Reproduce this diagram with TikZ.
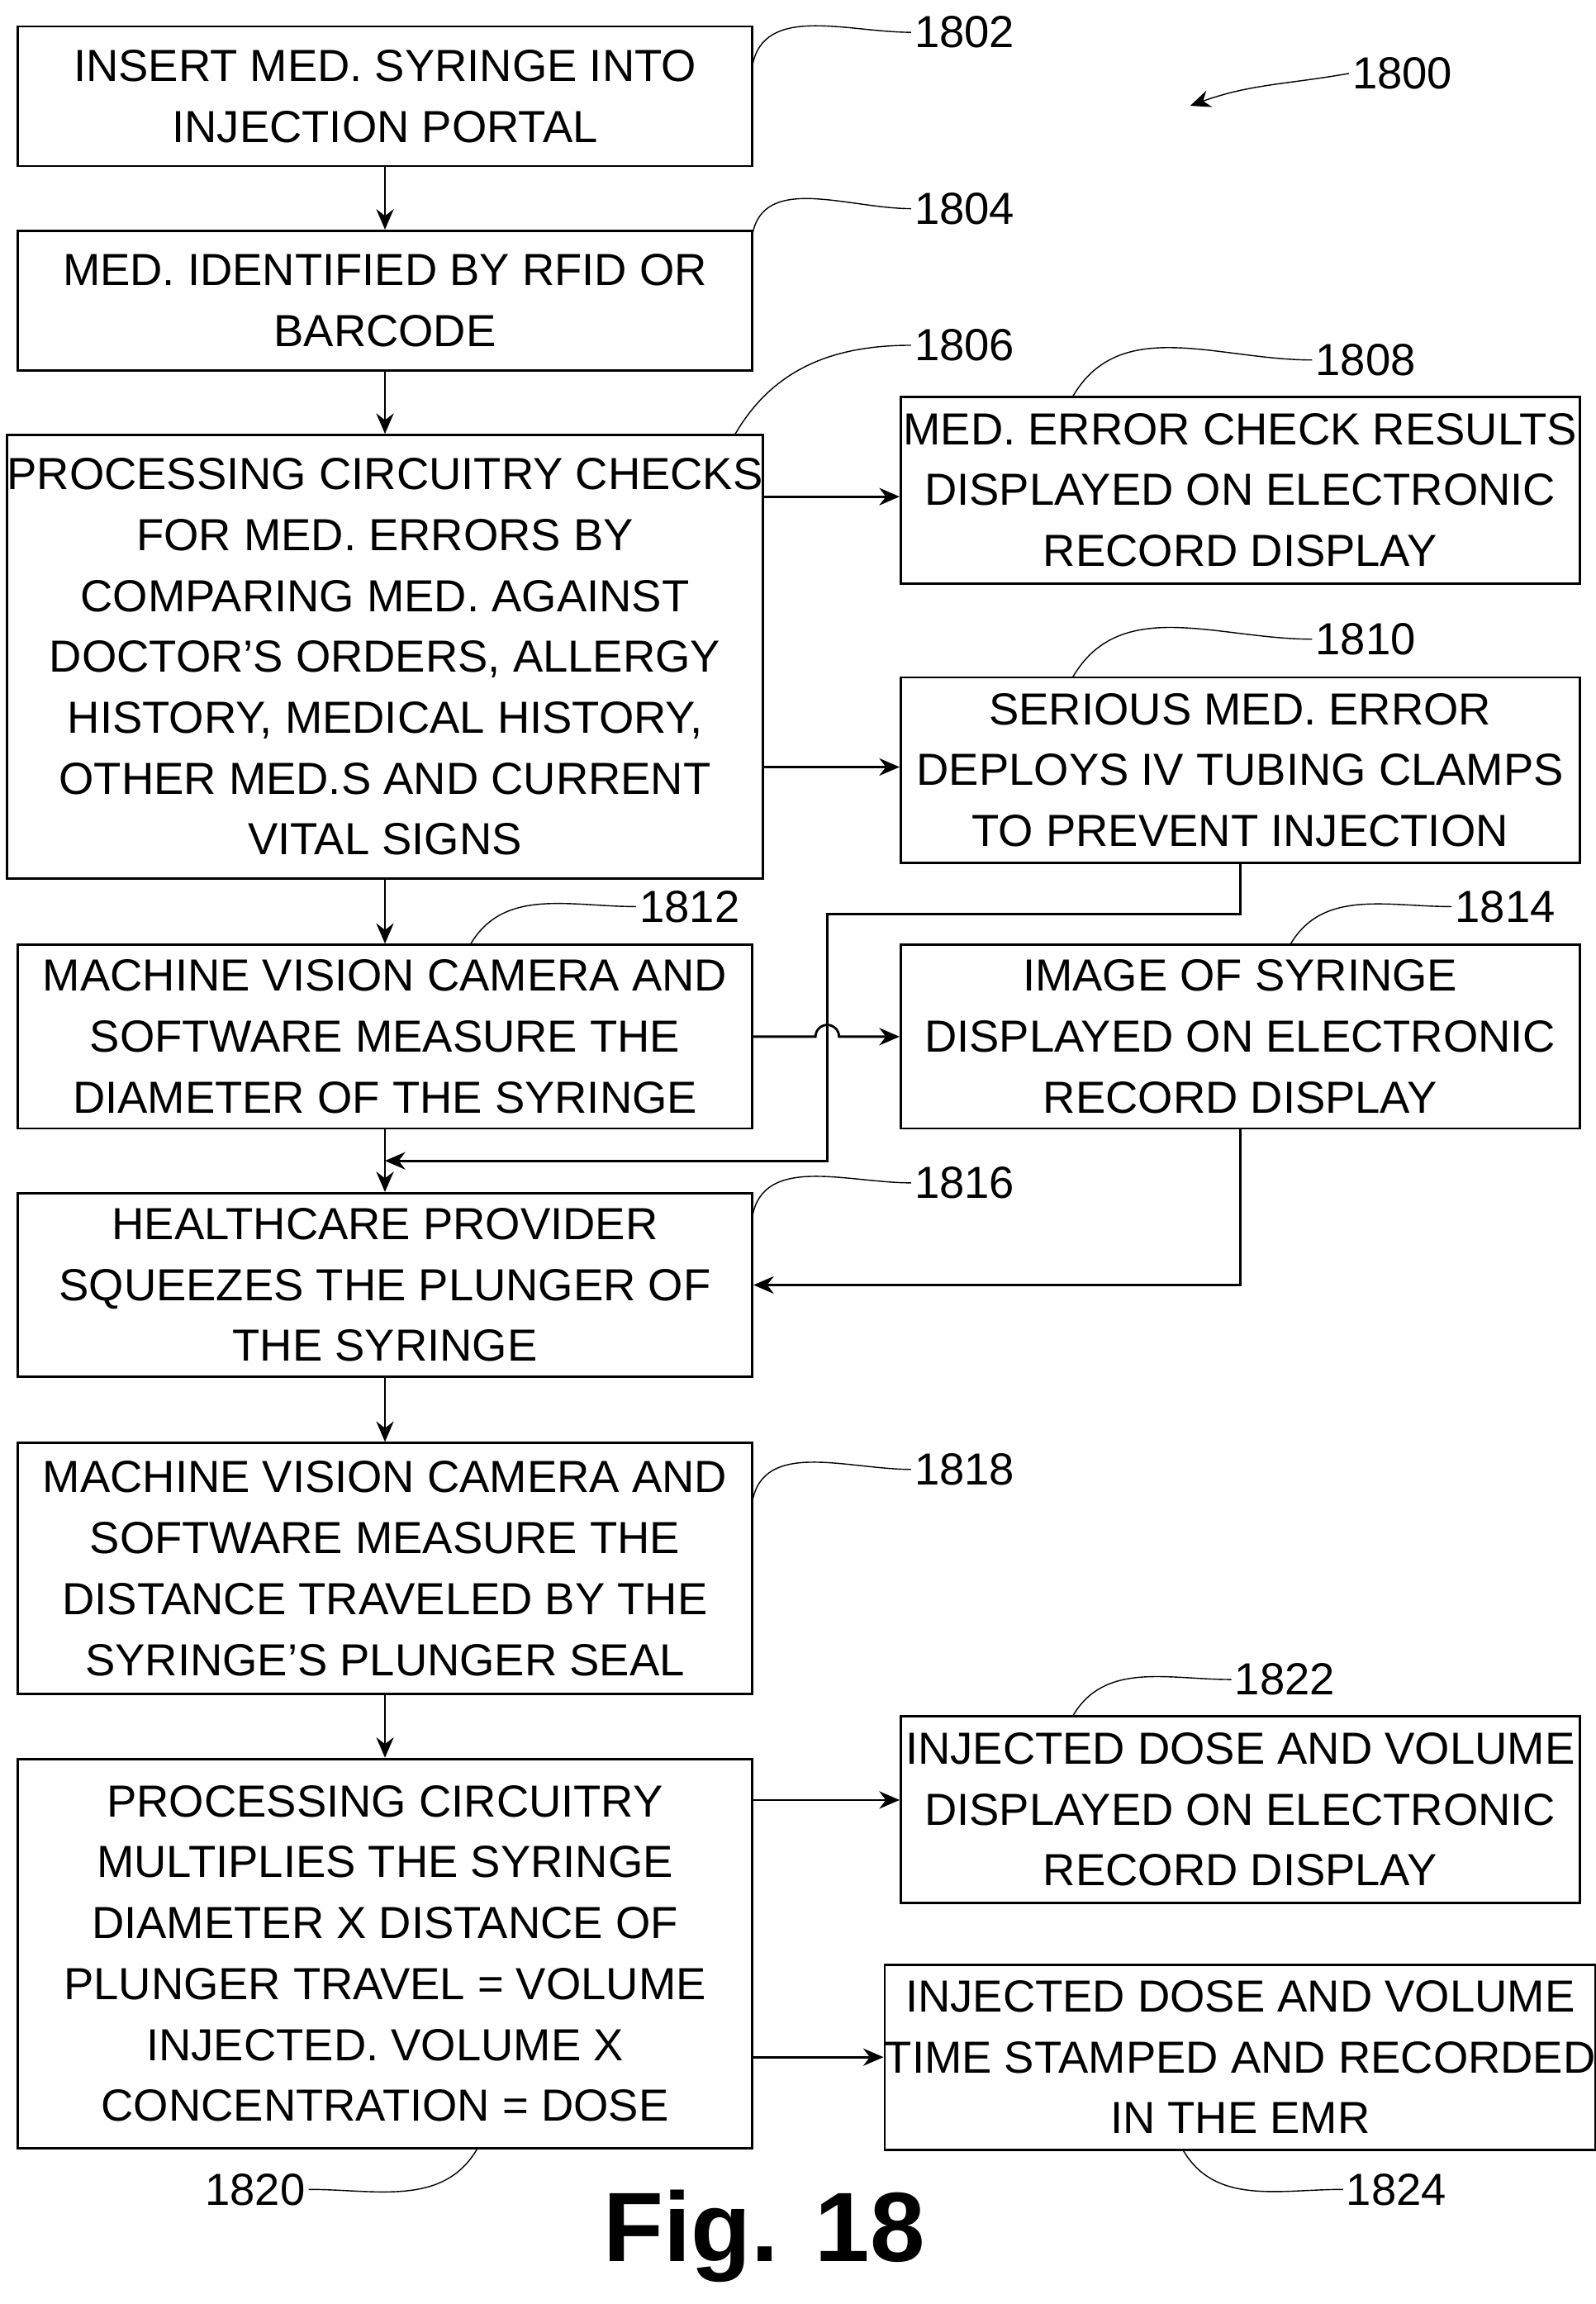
\documentclass[tikz,border=0pt]{standalone}
\usepackage{fontspec}
\setmainfont{Liberation Sans}
\usetikzlibrary{arrows.meta,positioning}

\begin{document}
\begin{tikzpicture}[
          x=0.0178cm, y=-0.0178cm,
          box/.style={rectangle, draw, thick, align=center, inner sep=0pt, font=\fontsize{15.5}{21}\selectfont},
          lbox/.style={box, minimum width=500*0.0178cm},
          rbox/.style={box, minimum width=462*0.0178cm},
          arrow/.style={-{Stealth[length=7pt,width=6pt]}, thick},
          lead/.style={thin},
          ref/.style={font=\fontsize{15.5}{18}\selectfont, inner sep=1pt}
        ]
          \useasboundingbox (0,0) rectangle (1086,1568);

          % left column
          \node[lbox, minimum height=95*0.0178cm] (b1802) at (262,65.5) {INSERT MED. SYRINGE INTO\\INJECTION PORTAL};
          \node[lbox, minimum height=95*0.0178cm] (b1804) at (262,204.5) {MED. IDENTIFIED BY RFID OR\\BARCODE};
          \node[lbox, minimum height=302*0.0178cm] (b1806) at (262,447) {PROCESSING CIRCUITRY CHECKS\\FOR MED. ERRORS BY\\COMPARING MED. AGAINST\\DOCTOR'S ORDERS, ALLERGY\\HISTORY, MEDICAL HISTORY,\\OTHER MED.S AND CURRENT\\VITAL SIGNS};
          \node[lbox, minimum height=125*0.0178cm] (b1812) at (262,705.5) {MACHINE VISION CAMERA AND\\SOFTWARE MEASURE THE\\DIAMETER OF THE SYRINGE};
          \node[lbox, minimum height=125*0.0178cm] (b1816) at (262,874.5) {HEALTHCARE PROVIDER\\SQUEEZES THE PLUNGER OF\\THE SYRINGE};
          \node[lbox, minimum height=171*0.0178cm] (b1818) at (262,1067.5) {MACHINE VISION CAMERA AND\\SOFTWARE MEASURE THE\\DISTANCE TRAVELED BY THE\\SYRINGE'S PLUNGER SEAL};
          \node[lbox, minimum height=265*0.0178cm] (b1820) at (262,1329.5) {PROCESSING CIRCUITRY\\MULTIPLIES THE SYRINGE\\DIAMETER X DISTANCE OF\\PLUNGER TRAVEL = VOLUME\\INJECTED. VOLUME X\\CONCENTRATION = DOSE};

          % right column
          \node[rbox, minimum height=127*0.0178cm] (b1808) at (844,333.5) {MED. ERROR CHECK RESULTS\\DISPLAYED ON ELECTRONIC\\RECORD DISPLAY};
          \node[rbox, minimum height=126*0.0178cm] (b1810) at (844,524) {SERIOUS MED. ERROR\\DEPLOYS IV TUBING CLAMPS\\TO PREVENT INJECTION};
          \node[rbox, minimum height=125*0.0178cm] (b1814) at (844,705.5) {IMAGE OF SYRINGE\\DISPLAYED ON ELECTRONIC\\RECORD DISPLAY};
          \node[rbox, minimum height=127*0.0178cm] (b1822) at (844,1231.5) {INJECTED DOSE AND VOLUME\\DISPLAYED ON ELECTRONIC\\RECORD DISPLAY};
          \node[rbox, minimum height=126*0.0178cm] (b1824) at (844,1400) {INJECTED DOSE AND VOLUME\\TIME STAMPED AND RECORDED\\IN THE EMR};

          % flow
          \draw[arrow] (b1802) -- (b1804);
          \draw[arrow] (b1804) -- (b1806);
          \draw[arrow] (b1806) -- (b1812);
          \draw[arrow] (b1812) -- (b1816);
          \draw[arrow] (b1816) -- (b1818);
          \draw[arrow] (b1818) -- (b1820);
          \draw[arrow] (b1806.east |- 0,338) -- (b1808.west |- 0,338);
          \draw[arrow] (b1806.east |- 0,522) -- (b1810.west |- 0,522);
          \draw[arrow] (b1812.east) -- (555,705.5) arc[start angle=180, end angle=0, radius=8*0.0178cm] -- (b1814.west);
          \draw[arrow] (b1810.south) |- (563,622) |- (262,790);
          \draw[arrow] (b1814.south) |- (b1816.east);
          \draw[arrow] (b1820.east |- 0,1225) -- (b1822.west |- 0,1225);
          \draw[arrow] (b1820.east |- 0,1400) -- (b1824.west);

          % reference numerals
          \node[ref, anchor=west] (n1800) at (918,50) {1800};
          \node[ref, anchor=west] (n1802) at (620,22) {1802};
          \node[ref, anchor=west] (n1804) at (620,142) {1804};
          \node[ref, anchor=west] (n1806) at (620,235) {1806};
          \node[ref, anchor=west] (n1808) at (893,245) {1808};
          \node[ref, anchor=west] (n1810) at (893,435) {1810};
          \node[ref, anchor=west] (n1812) at (433,617) {1812};
          \node[ref, anchor=west] (n1814) at (988,617) {1814};
          \node[ref, anchor=west] (n1816) at (620,805) {1816};
          \node[ref, anchor=west] (n1818) at (620,1000) {1818};
          \node[ref, anchor=west] (n1822) at (838,1143) {1822};
          \node[ref, anchor=east] (n1820) at (210,1490) {1820};
          \node[ref, anchor=west] (n1824) at (914,1490) {1824};

          % leaders
          \draw[arrow, thin] (n1800.west) to[out=190, in=20] (810,72);
          \draw[lead] (512,45) to[out=80, in=180] (n1802.west);
          \draw[lead] (512,160) to[out=80, in=180] (n1804.west);
          \draw[lead] (500,296) to[out=60, in=180] (n1806.west);
          \draw[lead] (730,270) to[out=60, in=180] (n1808.west);
          \draw[lead] (730,461) to[out=60, in=180] (n1810.west);
          \draw[lead] (320,643) to[out=60, in=180] (n1812.west);
          \draw[lead] (878,643) to[out=60, in=180] (n1814.west);
          \draw[lead] (512,828) to[out=80, in=180] (n1816.west);
          \draw[lead] (512,1022) to[out=80, in=180] (n1818.west);
          \draw[lead] (730,1168) to[out=60, in=180] (n1822.west);
          \draw[lead] (325,1462) to[out=-120, in=0] (n1820.east);
          \draw[lead] (805,1463) to[out=-60, in=180] (n1824.west);

          \node[font=\bfseries\fontsize{34}{40}\selectfont] (fig) at (520,1522) {Fig. 18};
        \end{tikzpicture}
\end{document}
